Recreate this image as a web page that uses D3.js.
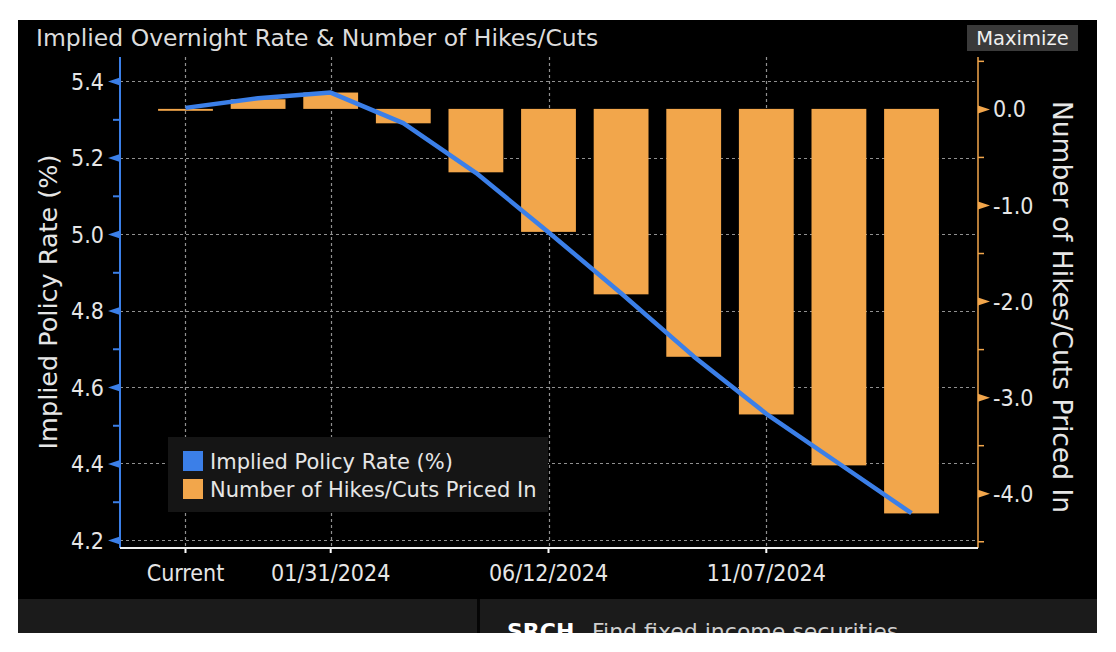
<!DOCTYPE html>
<html><head><meta charset="utf-8">
<script src="https://cdn.jsdelivr.net/npm/d3@7"></script>
<style>
html,body{margin:0;padding:0;background:#fff;}
svg{display:block;}
</style></head>
<body>
<svg id="c" width="1116" height="652"></svg>
<script>
// ---- data ----
const categories = ["Current","12/13/2023","01/31/2024","03/20/2024","05/01/2024","06/12/2024","07/31/2024","09/18/2024","11/07/2024","12/18/2024","01/29/2025"];
const hikesCuts = [-0.02, 0.10, 0.17, -0.15, -0.66, -1.28, -1.93, -2.58, -3.18, -3.71, -4.21];
const impliedRate = [5.33, 5.355, 5.37, 5.29, 5.16, 5.005, 4.845, 4.68, 4.53, 4.40, 4.27];
const xTickLabels = ["Current","01/31/2024","06/12/2024","11/07/2024"];
const leftTicks = [4.2, 4.4, 4.6, 4.8, 5.0, 5.2, 5.4];
const leftMinor = [4.3, 4.5, 4.7, 4.9, 5.1, 5.3];
const rightTicks = [0, -1, -2, -3, -4];
const rightMinor = [0.5, -0.5, -1.5, -2.5, -3.5, -4.5];
const seriesNames = ["Implied Policy Rate (%)", "Number of Hikes/Cuts Priced In"];

(function(){
// ---- style ----
const BLUE = "#3b7fe8", ORANGE = "#f2a64b", TXT = "#e6e6e6";
const FONT = "'DejaVu Sans',sans-serif";
const FONTC = "'DejaVu Sans Condensed','DejaVu Sans',sans-serif";
const fmt = d => (+d).toFixed(1);
const svg = d3.select("#c");

// panel
svg.append("rect").attr("x",18).attr("y",20).attr("width",1079).attr("height",579).attr("fill","#000");
// bottom bar
const cp = svg.append("defs").append("clipPath").attr("id","bclip");
cp.append("rect").attr("x",18).attr("y",599).attr("width",1079).attr("height",34);
const bb = svg.append("g").attr("clip-path","url(#bclip)");
bb.append("rect").attr("x",18).attr("y",599).attr("width",1079).attr("height",34).attr("fill","#1b1b1b");
bb.append("rect").attr("x",477).attr("y",599).attr("width",3).attr("height",34).attr("fill","#050505");
bb.append("text").attr("x",507).attr("y",639).attr("font-family",FONT).attr("font-size",22).attr("font-weight","bold").attr("fill","#fff").text("SRCH");
bb.append("text").attr("x",592).attr("y",639).attr("font-family",FONT).attr("font-size",22).attr("fill","#cfcfcf").text("Find fixed income securities");

const pTop = 57, pBottom = 548, pLeft = 120, pRight = 978;

const x = d3.scaleBand().domain(categories).range([136.3, 960.7]).paddingInner(0.245).paddingOuter(0.3);
const yL = d3.scaleLinear().domain([4.179, 5.463]).range([pBottom, pTop]);
const yR = d3.scaleLinear().domain([-4.57, 0.54]).range([pBottom, pTop]);
const cx = c => x(c) + x.bandwidth()/2;

// title
svg.append("text").attr("x",36).attr("y",46).attr("font-family",FONT).attr("font-size",23.5).attr("fill","#dcdcdc").text("Implied Overnight Rate & Number of Hikes/Cuts");
// maximize
svg.append("rect").attr("x",967).attr("y",25).attr("width",111).attr("height",26).attr("fill","#3a3a3a");
svg.append("text").attr("x",1022.5).attr("y",45).attr("text-anchor","middle").attr("font-family",FONT).attr("font-size",19.5).attr("fill","#f0f0f0").text("Maximize");

// grid
const grid = svg.append("g").attr("stroke","#909090").attr("stroke-width",1.2).attr("stroke-dasharray","3,3");
grid.selectAll("line.h").data(leftTicks).join("line").attr("x1",pLeft).attr("x2",pRight).attr("y1",d=>Math.round(yL(d))+0.5).attr("y2",d=>Math.round(yL(d))+0.5);
grid.selectAll("line.v").data(xTickLabels).join("line").attr("y1",pTop).attr("y2",pBottom).attr("x1",d=>Math.round(cx(d))+0.5).attr("x2",d=>Math.round(cx(d))+0.5);

// bars
svg.append("g").selectAll("rect").data(categories).join("rect")
  .attr("x",d=>x(d)).attr("width",x.bandwidth())
  .attr("y",(d,i)=>Math.min(yR(hikesCuts[i]),yR(0)))
  .attr("height",(d,i)=>Math.max(1.5,Math.abs(yR(hikesCuts[i])-yR(0))))
  .attr("fill",ORANGE);

// line
const line = d3.line().x((d,i)=>cx(categories[i])).y(d=>yL(d));
svg.append("path").datum(impliedRate).attr("d",line).attr("fill","none").attr("stroke",BLUE).attr("stroke-width",4.5).attr("stroke-linejoin","round");

// left axis
const la = svg.append("g").attr("transform",`translate(${pLeft},0)`)
  .call(d3.axisLeft(yL).tickValues(leftTicks).tickSize(0).tickPadding(16).tickFormat(fmt));
la.select(".domain").remove();
la.selectAll("text").attr("font-family",FONTC).attr("font-size",23).attr("fill",TXT).attr("dy","0.35em");
la.selectAll(".tick").append("path").attr("d","M0,-4 L-12,0 L0,4 Z").attr("fill",BLUE);
const lm = svg.append("g").attr("transform",`translate(${pLeft},0)`).call(d3.axisLeft(yL).tickValues(leftMinor).tickSize(7).tickFormat(""));
lm.select(".domain").remove();
lm.selectAll("line").attr("stroke",BLUE).attr("stroke-width",2);
svg.append("line").attr("x1",pLeft).attr("x2",pLeft).attr("y1",pTop).attr("y2",pBottom).attr("stroke",BLUE).attr("stroke-width",2);

// right axis
const ra = svg.append("g").attr("transform",`translate(${pRight},0)`)
  .call(d3.axisRight(yR).tickValues(rightTicks).tickSize(0).tickPadding(15).tickFormat(fmt));
ra.select(".domain").remove();
ra.selectAll("text").attr("font-family",FONTC).attr("font-size",23).attr("fill",TXT).attr("dy","0.35em");
ra.selectAll(".tick").append("path").attr("d","M0,-4 L12,0 L0,4 Z").attr("fill",ORANGE);
const rm = svg.append("g").attr("transform",`translate(${pRight},0)`).call(d3.axisRight(yR).tickValues(rightMinor).tickSize(6).tickFormat(""));
rm.select(".domain").remove();
rm.selectAll("line").attr("stroke",ORANGE).attr("stroke-width",1.5);
svg.append("line").attr("x1",pRight).attr("x2",pRight).attr("y1",pTop).attr("y2",pBottom).attr("stroke",ORANGE).attr("stroke-width",1.5);

// x axis
const xa = svg.append("g").attr("transform",`translate(0,${pBottom})`)
  .call(d3.axisBottom(x).tickValues(xTickLabels).tickSize(5).tickPadding(12));
xa.select(".domain").remove();
xa.selectAll("line").attr("stroke","#fff").attr("stroke-width",2);
xa.selectAll("text").attr("font-family",FONTC).attr("font-size",23).attr("fill",TXT);
svg.append("line").attr("x1",pLeft).attr("x2",pRight).attr("y1",pBottom).attr("y2",pBottom).attr("stroke","#f0f0f0").attr("stroke-width",2);

// axis titles
svg.append("text").attr("transform","translate(57,302) rotate(-90)").attr("text-anchor","middle").attr("font-family",FONT).attr("font-size",25.5).attr("fill",TXT).text("Implied Policy Rate (%)");
svg.append("text").attr("transform","translate(1053,307) rotate(90)").attr("text-anchor","middle").attr("font-family",FONT).attr("font-size",26.5).attr("fill",TXT).text("Number of Hikes/Cuts Priced In");

// legend
const lg = svg.append("g");
lg.append("rect").attr("x",168).attr("y",437).attr("width",380).attr("height",75).attr("fill","#151515");
const colors = [BLUE, ORANGE];
const li = lg.selectAll("g").data(seriesNames).join("g").attr("transform",(d,i)=>`translate(183,${451+i*28})`);
li.append("rect").attr("width",20).attr("height",20).attr("fill",(d,i)=>colors[i]);
li.append("text").attr("x",27).attr("y",18).attr("font-family",FONT).attr("font-size",21).attr("fill",TXT).text(d=>d);
})();
</script>
</body></html>
